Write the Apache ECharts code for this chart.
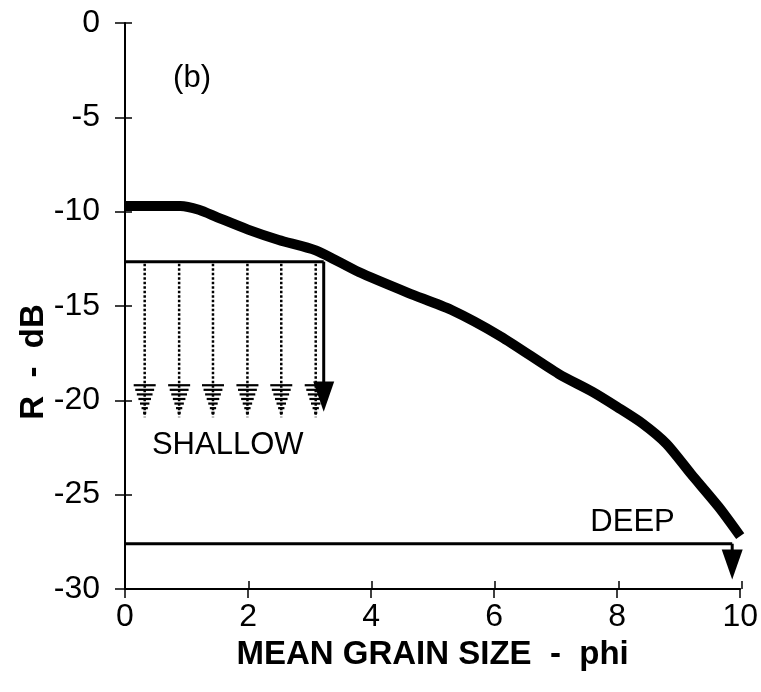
<!DOCTYPE html>
<html>
<head>
<meta charset="utf-8">
<script src="https://cdn.jsdelivr.net/npm/echarts@6/dist/echarts.min.js"></script>
<style>html,body{margin:0;padding:0;background:#fff}#c{width:761px;height:692px}</style>
</head>
<body>
<div id="c"></div>
<script>
// ---- data ----
const curveX = [0, 0.9, 1.2, 1.5, 2.0, 2.5, 3.1, 3.8, 4.6, 5.3, 6.1, 7.05, 7.6, 8.0, 8.4, 8.8, 9.2, 9.65, 10.0];
const curveY = [-9.7, -9.7, -9.9, -10.3, -10.95, -11.5, -12.05, -13.2, -14.3, -15.2, -16.6, -18.6, -19.55, -20.35, -21.2, -22.3, -23.9, -25.65, -27.2];
const shallowLevel = -12.65;
const shallowEndX = 3.23;
const deepLevel = -27.6;
const deepArrowX = 9.87;
const dottedArrowX = [0.32, 0.88, 1.43, 1.99, 2.54, 3.1];
const dottedHeadTop = -19.2, dottedTip = -20.9;
const solidArrows = [[shallowEndX, shallowLevel, -19.0, -20.6], [deepArrowX, deepLevel, -27.9, -29.5]];
const xMin = 0, xMax = 10, xStep = 2;
const yMin = -30, yMax = 0, yStep = 5;
const annotationText = ["(b)", "SHALLOW", "DEEP"];
const annotationX = [1.09, 1.67, 8.25];
const annotationY = [-2.95, -22.4, -26.45];
const xTitle = 'MEAN GRAIN SIZE  -  phi';
const yTitle = 'R  -  dB';

const FONT = "Liberation Sans";
const GRID = { left: 125, right: 19, top: 23, bottom: 103 };
const chart = echarts.init(document.getElementById('c'));

function axisBase(extra) {
  return Object.assign({
    type: 'value',
    axisLine: { show: true, onZero: false, lineStyle: { color: '#000', width: 2 } },
    splitLine: { show: false }
  }, extra);
}
const tickStyle = { color: '#000', width: 1.5 };

chart.setOption({
  animation: false,
  backgroundColor: '#fff',
  grid: [Object.assign({ containLabel: false }, GRID), Object.assign({ containLabel: false }, GRID)],
  xAxis: [
    axisBase({
      gridIndex: 0, min: xMin, max: xMax, interval: xStep, position: 'bottom',
      axisTick: { show: true, length: 9, lineStyle: tickStyle },
      axisLabel: { color: '#000', fontFamily: FONT, fontSize: 32, margin: 12 },
      name: xTitle, nameLocation: 'middle', nameGap: 49,
      nameTextStyle: { color: '#000', fontFamily: FONT, fontWeight: 'bold', fontSize: 33 }
    }),
    axisBase({
      gridIndex: 1, min: xMin, max: xMax, interval: xStep, position: 'bottom',
      axisLine: { show: false, onZero: false },
      axisTick: { show: true, inside: true, length: 8, lineStyle: tickStyle },
      axisLabel: { show: false }
    })
  ],
  yAxis: [
    axisBase({
      gridIndex: 0, min: yMin, max: yMax, interval: yStep, position: 'left',
      axisTick: { show: true, length: 10, lineStyle: tickStyle },
      axisLabel: { color: '#000', fontFamily: FONT, fontSize: 32, margin: 25 }
    }),
    axisBase({
      gridIndex: 1, min: yMin, max: yMax, interval: yStep, position: 'left',
      axisLine: { show: false, onZero: false },
      axisTick: { show: true, inside: true, length: 7, lineStyle: tickStyle },
      axisLabel: { show: false }
    })
  ],
  graphic: [{
    type: 'text', x: 34, y: 362, rotation: Math.PI / 2,
    style: { text: yTitle, fill: '#000', font: 'bold 33px "' + FONT + '"', align: 'center', verticalAlign: 'middle' }
  }],
  series: [
    {
      type: 'line', name: 'curve', smooth: 0.25, symbol: 'none',
      data: curveX.map((x, i) => [x, curveY[i]]),
      lineStyle: { color: '#000', width: 10, cap: 'butt', join: 'round' },
      z: 5
    },
    {
      type: 'line', name: 'shallow', symbol: 'none',
      data: [[xMin, shallowLevel], [shallowEndX, shallowLevel]],
      lineStyle: { color: '#000', width: 3 }
    },
    {
      type: 'line', name: 'deep', symbol: 'none',
      data: [[xMin, deepLevel], [deepArrowX, deepLevel]],
      lineStyle: { color: '#000', width: 3 }
    },
    {
      type: 'custom', name: 'dotted arrows',
      data: dottedArrowX.map(x => [x, shallowLevel, dottedHeadTop, dottedTip]),
      renderItem: function (params, api) {
        const x = api.value(0);
        const p0 = api.coord([x, api.value(1)]);
        const ph = api.coord([x, api.value(2)]);
        const pt = api.coord([x, api.value(3)]);
        const children = [{
          type: 'line',
          shape: { x1: p0[0], y1: p0[1] + 2, x2: pt[0], y2: pt[1] },
          style: { stroke: '#000', lineWidth: 2.5, lineDash: [2.5, 2] }
        }];
        const n = 7;
        for (let k = 0; k < n; k++) {
          const y = ph[1] + k * (pt[1] - ph[1]) / n;
          const hw = 11 * (1 - k / n);
          children.push({
            type: 'line',
            shape: { x1: ph[0] - hw, y1: y, x2: ph[0] + hw, y2: y },
            style: { stroke: '#000', lineWidth: 2.2 }
          });
        }
        return { type: 'group', children: children };
      },
      z: 3
    },
    {
      type: 'custom', name: 'solid arrows',
      data: solidArrows,
      renderItem: function (params, api) {
        const x = api.value(0);
        const p0 = api.coord([x, api.value(1)]);
        const ph = api.coord([x, api.value(2)]);
        const pt = api.coord([x, api.value(3)]);
        return {
          type: 'group',
          children: [
            { type: 'line', shape: { x1: p0[0], y1: p0[1], x2: ph[0], y2: ph[1] + 1 },
              style: { stroke: '#000', lineWidth: 3 } },
            { type: 'polygon', shape: { points: [[ph[0] - 10.5, ph[1]], [ph[0] + 10.5, ph[1]], [pt[0], pt[1]]] },
              style: { fill: '#000' } }
          ]
        };
      },
      z: 6
    },
    {
      type: 'custom', name: 'labels',
      data: annotationX.map((x, i) => [x, annotationY[i]]),
      renderItem: function (params, api) {
        const p = api.coord([api.value(0), api.value(1)]);
        return {
          type: 'text', x: p[0], y: p[1],
          style: {
            text: annotationText[params.dataIndex], fill: '#000',
            font: '31px "' + FONT + '"', align: 'center', verticalAlign: 'middle'
          }
        };
      },
      silent: true, z: 7
    }
  ]
});
</script>
</body>
</html>
